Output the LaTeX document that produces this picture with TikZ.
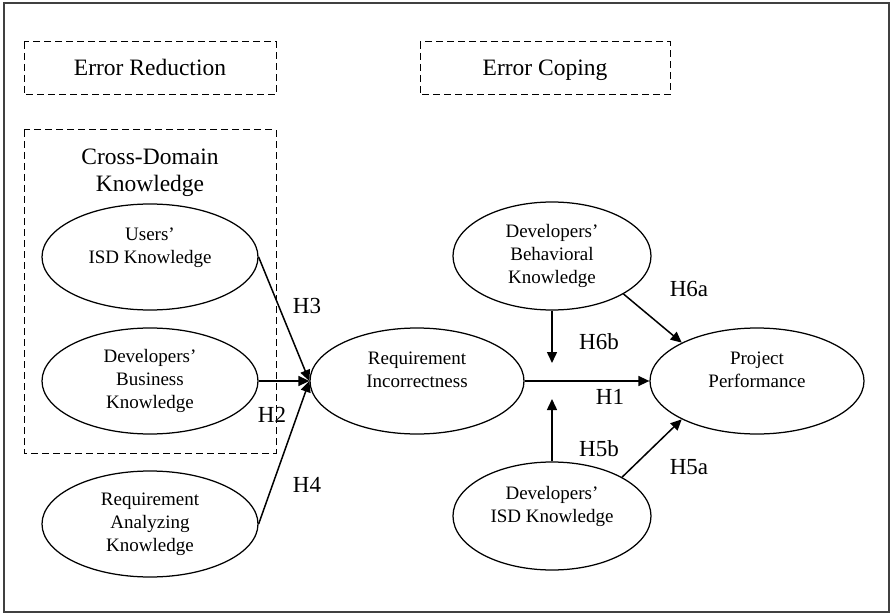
\documentclass[tikz,border=0pt]{standalone}
\usepackage{fontspec}
\setmainfont{Liberation Serif}
\usetikzlibrary{shapes.geometric,arrows.meta}

\begin{document}
\begin{tikzpicture}
  [x=1pt,y=-1pt,
   every node/.style={font=\fontsize{19}{23}\selectfont,align=center},
   ell/.style={ellipse,draw,line width=1.25pt,inner sep=0pt,minimum width=216pt,minimum height=106pt},
   grp/.style={draw,dash pattern=on 7pt off 4pt,line width=1pt},
   big/.style={font=\fontsize{23.5}{27}\selectfont},
   hyp/.style={font=\fontsize{23}{27}\selectfont},
   arr/.style={line width=1.5pt,-{Triangle[length=11pt,width=10pt]}}]
  \useasboundingbox (0,0) rectangle (892,615);
  \draw[black!75,line width=1.2pt] (4,3) rectangle (889,612);

  % groups
  \draw[grp] (24,42) rectangle (276,95);
  \draw[grp] (420,42) rectangle (670,95);
  \draw[grp] (24,130) rectangle (276,453);
  \node[big,anchor=base] (er) at (150,76) {Error Reduction};
  \node[big,anchor=base] (ec) at (545,76) {Error Coping};
  \node[big] (cdk) at (150,173) {Cross-Domain\\Knowledge};

  % constructs
  \node[ell] (uisd) at (150,257) {Users’\\ISD Knowledge\\~};
  \node[ell] (dbus) at (150,381) {Developers’\\Business\\Knowledge};
  \node[ell] (rak)  at (150,524) {Requirement\\Analyzing\\Knowledge};
  \node[ell,minimum width=214pt] (ri) at (417,381) {Requirement\\Incorrectness\\~};
  \node[ell,minimum width=198pt,minimum height=108pt] (dbk) at (552,256) {Developers’\\Behavioral\\Knowledge};
  \node[ell,minimum width=198pt,minimum height=108pt] (disd) at (552,516) {Developers’\\ISD Knowledge\\~};
  \node[ell,minimum width=214pt] (pp) at (757,381) {Project\\Performance\\~};

  \coordinate (h6b) at (552,363);
  \coordinate (h5b) at (552,399);

  \foreach \from/\to in {uisd.east/ri.west,dbus.east/ri.west,rak.east/ri.west,ri/pp,dbk/h6b,disd/h5b,dbk.-28/pp.153,disd.29/pp.207}
    \draw[arr] (\from) -- (\to);

  % hypotheses
  \node[hyp] (lh3) at (307,306) {H3};
  \node[hyp] (lh2) at (272,415) {H2};
  \node[hyp] (lh4) at (307,485) {H4};
  \node[hyp] (lh6a) at (689,289) {H6a};
  \node[hyp] (lh6b) at (599,342) {H6b};
  \node[hyp] (lh1) at (610,397) {H1};
  \node[hyp] (lh5b) at (599,449) {H5b};
  \node[hyp] (lh5a) at (689,467) {H5a};

\end{tikzpicture}
\end{document}
